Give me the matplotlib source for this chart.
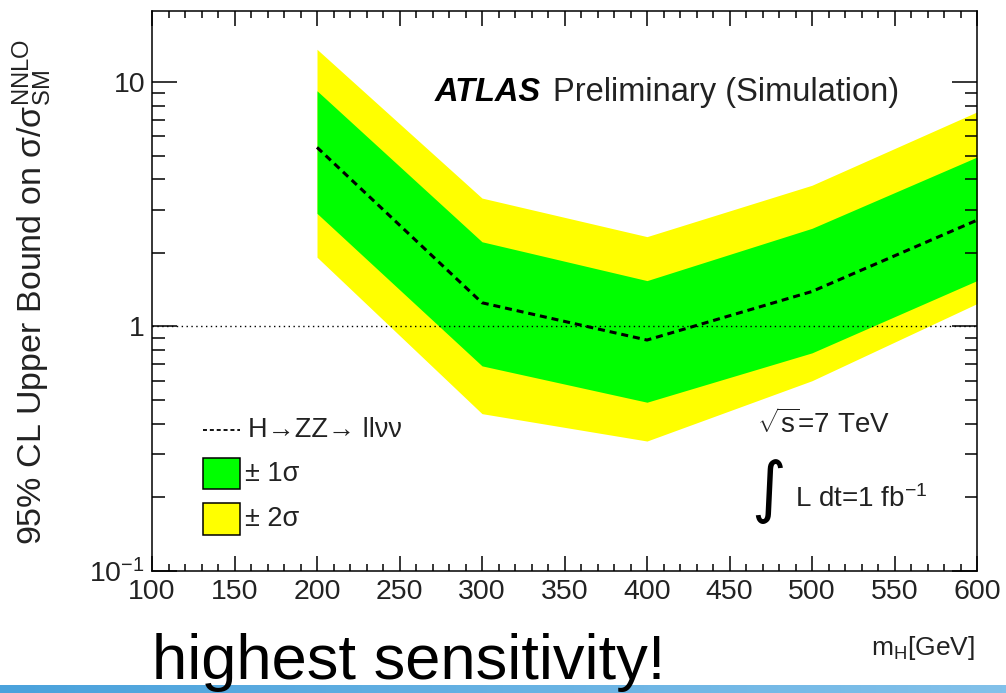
import matplotlib
matplotlib.use("Agg")
import matplotlib.pyplot as plt
import numpy as np
from matplotlib.ticker import FixedLocator, LogLocator, NullFormatter, MultipleLocator
from matplotlib.patches import Rectangle
from matplotlib.colors import LinearSegmentedColormap

plt.rcParams['font.family'] = ['Liberation Sans', 'DejaVu Sans']
plt.rcParams['mathtext.fontset'] = 'custom'
plt.rcParams['mathtext.rm'] = 'Liberation Sans'
plt.rcParams['mathtext.it'] = 'Liberation Sans:italic'
plt.rcParams['mathtext.bf'] = 'Liberation Sans:bold'
plt.rcParams['mathtext.default'] = 'regular'

# Expected limit and bands vs Higgs mass
mass = [200, 300, 400, 500, 600]
median = [5.4, 1.25, 0.88, 1.39, 2.72]
plus1 = [9.2, 2.22, 1.54, 2.52, 4.93]
minus1 = [2.9, 0.69, 0.49, 0.78, 1.54]
plus2 = [13.6, 3.35, 2.33, 3.78, 7.54]
minus2 = [1.92, 0.44, 0.34, 0.60, 1.24]

x_ticks = [100, 150, 200, 250, 300, 350, 400, 450, 500, 550, 600]
y_ticks = [0.1, 1, 10]
y_ticklabels = ['$10^{-1}$', '1', '10']

tc = '#222222'
fig = plt.figure(figsize=(10.06, 6.93), dpi=100)
ax = fig.add_axes([152 / 1006, 122 / 693, 825 / 1006, 560 / 693])

ax.fill_between(mass, minus2, plus2, color='#ffff00', lw=0)
ax.fill_between(mass, minus1, plus1, color='#00ff00', lw=0)
ax.plot(mass, median, color='black', lw=2.2, dashes=(2.3, 1.6))
ax.axhline(1, color='black', lw=1, dashes=(1, 2.5))

ax.set_yscale('log')
ax.set_xlim(100, 600)
ax.set_ylim(0.1, 19.5)

ax.xaxis.set_major_locator(FixedLocator(x_ticks))
ax.xaxis.set_minor_locator(MultipleLocator(10))
ax.set_xticklabels([str(v) for v in x_ticks])
ax.yaxis.set_major_locator(FixedLocator(y_ticks))
ax.yaxis.set_minor_locator(LogLocator(base=10, subs=np.arange(2, 10)))
ax.yaxis.set_minor_formatter(NullFormatter())
ax.set_yticklabels(y_ticklabels)

ax.tick_params(which='both', direction='in', top=True, right=True,
               width=1.1, colors='black', labelcolor=tc, labelsize=20.5)
ax.tick_params(axis='x', which='major', length=11, pad=6)
ax.tick_params(axis='x', which='minor', length=5)
ax.tick_params(axis='y', which='major', length=18, pad=5)
ax.tick_params(axis='y', which='minor', length=9)
for s in ax.spines.values():
    s.set_linewidth(1.1)

fig.text(32 / 1006, 1 - 292 / 693,
         r'95% CL Upper Bound on $\sigma/\sigma_{SM}^{NNLO}$',
         rotation=90, ha='center', va='center', fontsize=24.5, color=tc)

# Labels inside the frame
ax.text(0.343, 0.855, 'ATLAS', transform=ax.transAxes, fontsize=23.5,
        fontweight='bold', fontstyle='italic', va='center', color='black')
ax.text(0.486, 0.855, 'Preliminary (Simulation)', transform=ax.transAxes,
        fontsize=23.5, va='center', color=tc)
ax.text((757 - 152) / 825, (571 - 433) / 560, r'$\sqrt{s}$=7 TeV',
        transform=ax.transAxes, fontsize=20, va='baseline', color=tc)
ax.text((769 - 152) / 825, (571 - 491) / 560, '\u222b', transform=ax.transAxes,
        fontsize=48, ha='center', va='center', color='black',
        family='DejaVu Sans')
ax.text((795 - 152) / 825, (571 - 507) / 560, r'L dt=1 fb$^{-1}$',
        transform=ax.transAxes, fontsize=20, va='baseline', color=tc)

# Legend
ax.plot([0.062, 0.107], [0.252, 0.252], transform=ax.transAxes,
        color='black', lw=1.3, dashes=(2.2, 1.6))
ax.text(0.116, 0.252, 'H\u2192ZZ\u2192 ll\u03bd\u03bd', transform=ax.transAxes,
        fontsize=19.5, va='center', color=tc)
ax.add_patch(Rectangle((0.062, 0.146), 0.045, 0.055, transform=ax.transAxes,
                       facecolor='#00ff00', edgecolor='black', lw=1.1))
ax.add_patch(Rectangle((0.062, 0.064), 0.045, 0.057, transform=ax.transAxes,
                       facecolor='#ffff00', edgecolor='black', lw=1.1))
ax.text(0.113, 0.173, '\u00b1 1\u03c3', transform=ax.transAxes,
        fontsize=19.5, va='center', color=tc)
ax.text(0.113, 0.093, '\u00b1 2\u03c3', transform=ax.transAxes,
        fontsize=19.5, va='center', color=tc)

fig.text(975 / 1006, 1 - 655 / 693, r'm$_{H}$[GeV]', ha='right',
         va='baseline', fontsize=19, color=tc)

fig.text(152 / 1006, 1 - 679 / 693, 'highest sensitivity!', ha='left',
         va='baseline', fontsize=45.5, color='black')

# Blue strip along the bottom edge
bar = fig.add_axes([0, 0, 1, 8 / 693])
grad = np.linspace(0, 1, 256)[None, :]
cmap = LinearSegmentedColormap.from_list('strip', ['#4aa2dc', '#82c1ea'])
bar.imshow(grad, aspect='auto', cmap=cmap, extent=[0, 1, 0, 1])
bar.set_axis_off()

fig.savefig('out.png', dpi=100)
